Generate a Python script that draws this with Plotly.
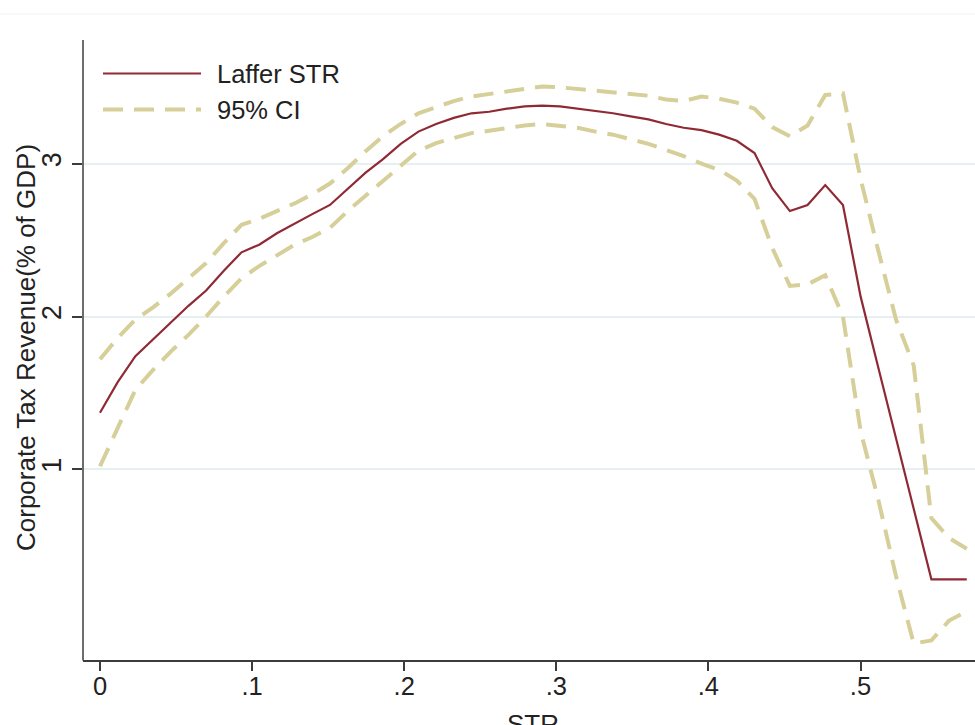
import plotly.graph_objects as go

# ---- data ----
STEP = 0.01163
str_x = [round(i * STEP, 5) for i in range(50)]

laffer = [1.37, 1.57, 1.74, 1.85, 1.96, 2.07, 2.17, 2.30, 2.42, 2.47,
          2.545, 2.61, 2.67, 2.73, 2.835, 2.94, 3.03, 3.13, 3.21, 3.26,
          3.30, 3.33, 3.34, 3.36, 3.375, 3.38, 3.375, 3.36, 3.345, 3.33,
          3.31, 3.29, 3.26, 3.235, 3.22, 3.19, 3.15, 3.07, 2.84, 2.69,
          2.73, 2.86, 2.73, 2.13, 1.665, 1.20, 0.74, 0.28, 0.28, 0.28]

ci_upper = [1.72, 1.86, 1.98, 2.06, 2.15, 2.25, 2.35, 2.48, 2.60, 2.64,
            2.69, 2.74, 2.80, 2.87, 2.97, 3.08, 3.18, 3.26, 3.33, 3.37,
            3.41, 3.44, 3.455, 3.47, 3.49, 3.505, 3.50, 3.49, 3.48, 3.47,
            3.46, 3.445, 3.42, 3.41, 3.44, 3.425, 3.40, 3.36, 3.24, 3.18,
            3.25, 3.45, 3.46, 2.90, 2.43, 1.98, 1.68, 0.68, 0.55, 0.48]

ci_lower = [1.02, 1.27, 1.52, 1.65, 1.77, 1.88, 2.00, 2.13, 2.25, 2.33,
            2.40, 2.47, 2.52, 2.58, 2.69, 2.79, 2.89, 2.99, 3.085, 3.135,
            3.17, 3.20, 3.215, 3.235, 3.25, 3.26, 3.25, 3.235, 3.21, 3.19,
            3.16, 3.13, 3.09, 3.05, 3.00, 2.96, 2.89, 2.77, 2.45, 2.20,
            2.21, 2.27, 2.00, 1.25, 0.80, 0.30, -0.14, -0.12, 0.01, 0.07]

x_tickvals = [0, 0.1, 0.2, 0.3, 0.4, 0.5]
x_ticktext = ["0", ".1", ".2", ".3", ".4", ".5"]
y_tickvals = [1, 2, 3, 4]
y_ticktext = ["1", "2", "3", "4"]

legend_names = ["Laffer STR", "95% CI"]
x_title = "STR"
y_title = "Corporate Tax Revenue(% of GDP)"

# ---- styling ----
W, H = 975, 725
ML, MR, MT, MB = 83, 0, 0, 65
PW, PH = W - ML - MR, H - MT - MB
RED = "#8F2A35"
KHAKI = "#D6CF99"
AXIS = "#3c3c3c"
GRID = "#E6F0F2"
FONT = "Liberation Sans, Arial, Helvetica, sans-serif"
DASH = "20px,11px"

def px(xp):
    return (xp - ML) / PW

def py(yp):
    return (H - MB - yp) / PH

fig = go.Figure()
fig.add_trace(go.Scatter(x=str_x, y=ci_upper, mode="lines", name=legend_names[1],
                         line=dict(color=KHAKI, width=4, dash=DASH), showlegend=False))
fig.add_trace(go.Scatter(x=str_x, y=ci_lower, mode="lines", name=legend_names[1],
                         line=dict(color=KHAKI, width=4, dash=DASH), showlegend=False))
fig.add_trace(go.Scatter(x=str_x, y=laffer, mode="lines", name=legend_names[0],
                         line=dict(color=RED, width=2.2), showlegend=False))

shapes = []
# y axis line (starts below the top as in the reference)
shapes.append(dict(type="line", xref="paper", yref="paper", x0=0, x1=0,
                   y0=py(660.5), y1=py(40), line=dict(color=AXIS, width=1.5), layer="above"))
# white strip at top, and faint rule
shapes.append(dict(type="rect", xref="paper", yref="paper", x0=px(0), x1=px(W),
                   y0=py(13), y1=py(-2), fillcolor="white", line=dict(width=0), layer="above"))
shapes.append(dict(type="line", xref="paper", yref="paper", x0=px(0), x1=px(W),
                   y0=py(14), y1=py(14), line=dict(color="#EEF3F3", width=1.2), layer="above"))
# manual legend samples
shapes.append(dict(type="line", xref="paper", yref="paper", x0=px(103), x1=px(201),
                   y0=py(73.5), y1=py(73.5), line=dict(color=RED, width=2.2), layer="above"))
shapes.append(dict(type="line", xref="paper", yref="paper", x0=px(103), x1=px(201),
                   y0=py(109.5), y1=py(109.5), line=dict(color=KHAKI, width=4, dash=DASH), layer="above"))

annotations = [
    dict(text=legend_names[0], xref="paper", yref="paper", x=px(215), y=py(74),
         xanchor="left", yanchor="middle", showarrow=False, font=dict(size=25.5, color="#222")),
    dict(text=legend_names[1], xref="paper", yref="paper", x=px(215), y=py(110),
         xanchor="left", yanchor="middle", showarrow=False, font=dict(size=25.5, color="#222")),
    dict(text=x_title, xref="paper", yref="paper", x=px(533), y=py(707),
         xanchor="center", yanchor="top", showarrow=False, font=dict(size=26, color="#222")),
    dict(text=y_title, xref="paper", yref="paper", x=px(26), y=py(348),
         xanchor="center", yanchor="middle", textangle=-90, showarrow=False,
         font=dict(size=26, color="#222")),
]

x0v = (ML - 100) / 1521.0
x1v = x0v + PW / 1521.0
ytop = 3 + 163.7 / 152.8
ybot = 3 - (660 - 163.7) / 152.8

fig.update_layout(
    width=W, height=H,
    margin=dict(l=ML, r=MR, t=MT, b=MB, pad=0),
    paper_bgcolor="white", plot_bgcolor="white",
    font=dict(family=FONT, color="#222"),
    showlegend=False,
    shapes=shapes, annotations=annotations,
    xaxis=dict(range=[x0v, x1v], tickvals=x_tickvals, ticktext=x_ticktext,
               showgrid=False, zeroline=False, showline=True, linecolor=AXIS, linewidth=1.5,
               ticks="outside", ticklen=9, tickwidth=1.5, tickcolor=AXIS,
               tickfont=dict(size=25.5, color="#222"), ticklabelstandoff=-6),
    yaxis=dict(range=[ybot, ytop], tickvals=y_tickvals, ticktext=y_ticktext,
               showgrid=True, gridcolor=GRID, gridwidth=1.5, zeroline=False,
               showline=False, ticks="outside", ticklen=10, tickwidth=1.5, tickcolor=AXIS,
               tickangle=-90, tickfont=dict(size=27, color="#222")),
)

fig.write_html("out.html")
